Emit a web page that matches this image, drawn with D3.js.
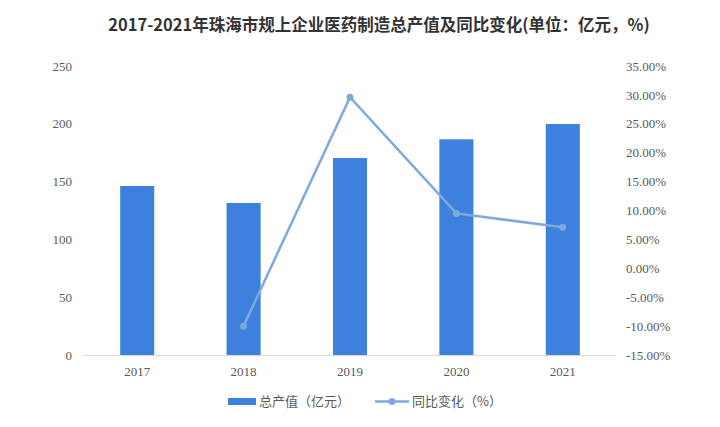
<!DOCTYPE html>
<html><head><meta charset="utf-8">
<script src="https://cdn.jsdelivr.net/npm/d3@7"></script>
<style>body{margin:0;background:#fff}</style>
</head><body>
<svg id="c" width="720" height="427"></svg>
<script>
const years = ["2017","2018","2019","2020","2021"];
const output = [146.2, 131.5, 170.4, 186.6, 199.8];
const growth = [null, -10.0, 29.6, 9.5, 7.1];
const leftTicks = [0,50,100,150,200,250];
const rightTicks = [-15,-10,-5,0,5,10,15,20,25,30,35];
const title = "2017-2021年珠海市规上企业医药制造总产值及同比变化(单位：亿元，%)";
const legendLabels = ["总产值（亿元）","同比变化（%）"];

const svg = d3.select("#c");
const barColor = "#3d80de", lineColor = "#7fa8dd";
const x = d3.scaleBand().domain(years).range([84,616]).paddingInner(0.68).paddingOuter(0.34);
const yL = d3.scaleLinear().domain([0,250]).range([355,66]);
const yR = d3.scaleLinear().domain([-15,35]).range([355,66]);

svg.append("text").attr("x",379).attr("y",31).attr("text-anchor","middle")
  .attr("font-family","Noto Sans CJK SC").attr("font-weight","bold").attr("font-size",16.5)
  .attr("fill","#333").text(title);

const axL = svg.append("g").attr("transform","translate(84,0)")
  .call(d3.axisLeft(yL).tickValues(leftTicks).tickSize(0).tickPadding(12));
const axR = svg.append("g").attr("transform","translate(616,0)")
  .call(d3.axisRight(yR).tickValues(rightTicks).tickSize(0).tickPadding(10).tickFormat(d=>d.toFixed(2)+"%"));
[axL,axR].forEach(a=>{a.select(".domain").remove();
  a.selectAll("text").attr("font-family","Liberation Serif").attr("font-size",13).attr("fill","#595959");});

svg.append("line").attr("x1",84).attr("x2",616).attr("y1",355.5).attr("y2",355.5).attr("stroke","#d9d9d9");

svg.selectAll("rect.bar").data(years).join("rect").attr("class","bar")
  .attr("x",d=>x(d)).attr("width",x.bandwidth())
  .attr("y",(d,i)=>yL(output[i])).attr("height",(d,i)=>yL(0)-yL(output[i]))
  .attr("fill",barColor);

const ax = svg.append("g").attr("transform","translate(0,355)")
  .call(d3.axisBottom(x).tickSize(0).tickPadding(12));
ax.select(".domain").remove();
ax.selectAll("text").attr("font-family","Liberation Serif").attr("font-size",13).attr("fill","#595959");

const pts = years.map((d,i)=>({y:d,v:growth[i]})).filter(p=>p.v!==null);
const line = d3.line().x(p=>x(p.y)+x.bandwidth()/2).y(p=>yR(p.v));
svg.append("path").datum(pts).attr("d",line).attr("fill","none").attr("stroke",lineColor).attr("stroke-width",2.5);
svg.selectAll("circle.pt").data(pts).join("circle").attr("class","pt")
  .attr("cx",p=>x(p.y)+x.bandwidth()/2).attr("cy",p=>yR(p.v)).attr("r",3.5).attr("fill",lineColor);

// legend
const lg = svg.append("g");
lg.append("rect").attr("x",228).attr("y",398).attr("width",28).attr("height",7).attr("fill",barColor);
lg.append("text").attr("x",259).attr("y",406).text(legendLabels[0]);
lg.append("line").attr("x1",375).attr("x2",409).attr("y1",401.5).attr("y2",401.5).attr("stroke",lineColor).attr("stroke-width",2.5);
lg.append("circle").attr("cx",392).attr("cy",401.5).attr("r",3.5).attr("fill",lineColor);
lg.append("text").attr("x",412).attr("y",406).text(legendLabels[1]);
lg.selectAll("text").attr("font-family","Noto Sans CJK SC").attr("font-size",13).attr("fill","#595959");
</script>
</body></html>
